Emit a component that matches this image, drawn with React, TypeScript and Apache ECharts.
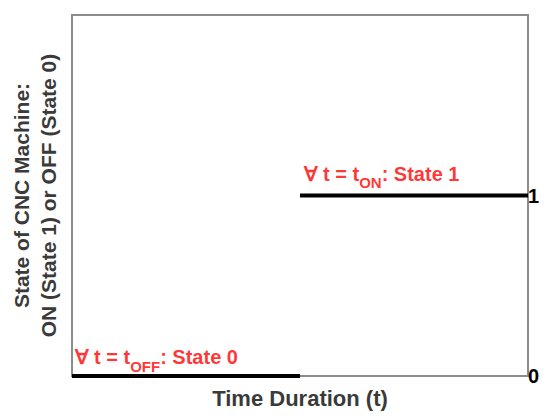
import React, { useEffect, useRef } from "react";
import * as echarts from "echarts";

const xRange = [0, 2];
const yRange = [0, 2];
const offSegment: [number, number][] = [[0, 0], [1, 0]];
const onSegment: [number, number][] = [[1, 1], [2, 1]];
const yTickLabels = ["0", "1"];
const xTitle = "Time Duration (t)";
const yTitle = "State of CNC Machine:\nON (State 1) or OFF (State 0)";

const FONT = "'Liberation Sans', Arial, sans-serif";

export default function App() {
  const ref = useRef<HTMLDivElement>(null);
  useEffect(() => {
    if (!ref.current) return;
    const chart = echarts.init(ref.current, undefined, { renderer: "svg" });
    const red = "#ff0000";
    const rich = {
      a: { fontSize: 20, fontWeight: "bold" as const, color: red, fontFamily: FONT, lineHeight: 33 },
      s: { fontSize: 15, fontWeight: "bold" as const, color: red, fontFamily: FONT, lineHeight: 15, padding: [18, 0, 0, 0] },
    };
    chart.setOption({
      animation: false,
      grid: {
        left: 70, right: 22, top: 15, bottom: 42,
        show: true, borderColor: "#8c8c8c", borderWidth: 2, backgroundColor: "#fff",
      },
      xAxis: {
        type: "value", min: xRange[0], max: xRange[1],
        name: xTitle, nameLocation: "middle", nameGap: 11,
        nameTextStyle: { fontSize: 22, fontWeight: "bold", color: "#3a3a3a", fontFamily: FONT },
        axisLine: { show: false }, axisTick: { show: false }, axisLabel: { show: false }, splitLine: { show: false },
      },
      yAxis: [
        {
          type: "value", min: yRange[0], max: yRange[1], position: "left",
          name: yTitle, nameLocation: "middle", nameGap: 10, nameRotate: 90,
          nameTextStyle: { fontSize: 21, fontWeight: "bold", color: "#3a3a3a", fontFamily: FONT, lineHeight: 27 },
          axisLine: { show: false }, axisTick: { show: false }, axisLabel: { show: false }, splitLine: { show: false },
        },
        {
          type: "value", min: yRange[0], max: yRange[1], interval: 1, position: "right",
          axisLine: { show: false },
          axisTick: { show: false },
          axisLabel: {
            show: true, margin: 0, fontSize: 20, fontWeight: "bold", color: "#000", fontFamily: FONT,
            padding: [6, 0, 0, 0],
            formatter: (v: number) => yTickLabels[v] ?? "",
          },
          splitLine: { show: false },
        },
      ],
      series: [
        {
          type: "line", data: offSegment, symbol: "none", z: 5,
          lineStyle: { color: "#000", width: 4 },
        },
        {
          type: "line", data: onSegment, symbol: "none", z: 5,
          lineStyle: { color: "#000", width: 4 },
        },
        {
          type: "scatter", symbolSize: 1, itemStyle: { color: "rgba(0,0,0,0)" },
          data: [
            {
              value: offSegment[0],
              label: {
                show: true, position: [3, -35], align: "left", verticalAlign: "top",
                formatter: "{a|\u2200 t = t}{s|OFF}{a|: State 0}", rich,
              },
            },
            {
              value: onSegment[0],
              label: {
                show: true, position: [4, -38], align: "left", verticalAlign: "top",
                formatter: "{a|\u2200 t = t}{s|ON}{a|: State 1}", rich,
              },
            },
          ],
        },
      ],
    });
    return () => chart.dispose();
  }, []);
  return (
    <div
      ref={ref}
      style={{ position: "fixed", left: 0, top: 0, width: 550, height: 418, background: "#fff" }}
    />
  );
}
